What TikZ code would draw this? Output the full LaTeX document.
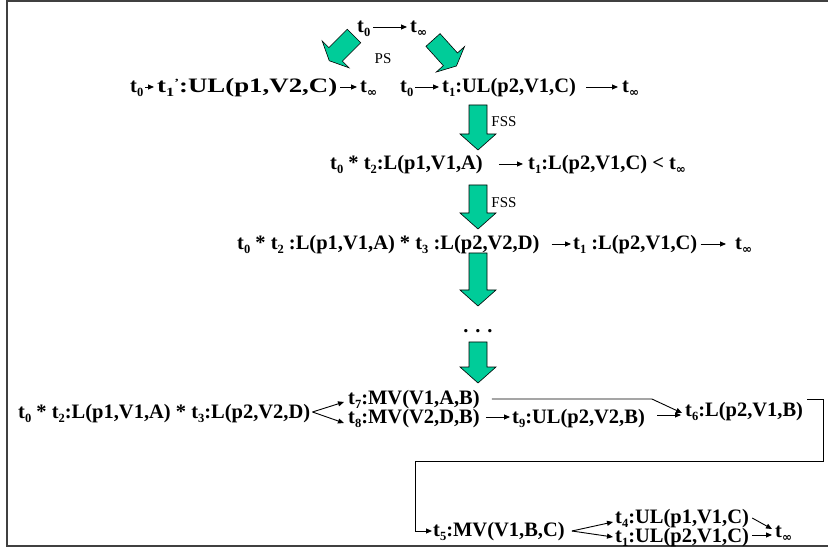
\documentclass[tikz,border=0pt]{standalone}
\usepackage{fontspec}
\setmainfont{Liberation Serif}
\newfontfamily\symfont{DejaVu Sans}
\usetikzlibrary{arrows.meta,calc}
\definecolor{blockgreen}{RGB}{0,204,153}
\definecolor{framegray}{RGB}{64,64,64}
% subscript and the "t infinity" state
\newcommand\ssub[1]{\raisebox{-4pt}{\fontsize{12.5}{12.5}\selectfont #1}}
\newcommand\tinf{t\raisebox{-4pt}{\symfont\bfseries\fontsize{12}{12}\selectfont ∞}}
\newcommand\tprime{\raisebox{6pt}{\fontsize{11}{11}\selectfont '}}
% vertical block arrow: x, top, head base, tip
\newcommand\greendown[4]{%
  \path[bigarrow] (#1-9,#2) -- (#1+9,#2) -- (#1+9,#3) -- (#1+18,#3) -- (#1,#4)
    -- (#1-18,#3) -- (#1-9,#3) -- cycle;}
\begin{document}
\begin{tikzpicture}[x=1pt,y=-1pt,
  txt/.style={inner sep=0pt, anchor=base west, font=\fontsize{20.5}{22}\selectfont\bfseries},
  lbl/.style={inner sep=0pt, font=\fontsize{15}{15}\selectfont},
  conn/.style={-{Triangle[length=6pt,width=5pt]}, line width=0.9pt},
  bigarrow/.style={fill=blockgreen, draw=black, line width=0.6pt, line join=miter},
  frame/.style={draw=framegray, line width=1.2pt}]
\useasboundingbox (0,0) rectangle (828,548);
\clip (0,0) rectangle (828,548);
\draw[frame] (840,1) -- (7,1) -- (7,546) -- (840,546);

% top: t0 -> t_inf and the two PS splits
\node[txt] (a0) at (357,33) {t\ssub{0}};
\node[txt] (ainf) at (410,33) {\tinf};
\draw[conn] ($(a0.base east)+(3,-6)$) -- ($(ainf.base west)+(-3,-6)$);
\begin{scope}[shift={(354,36)}, rotate=225]
  \path[bigarrow] (0,-9.5) -- (26,-9.5) -- (26,-19) -- (35,0) -- (26,19) -- (26,9.5) -- (0,9.5) -- cycle;
\end{scope}
\begin{scope}[shift={(433,40)}, rotate=-48]
  \path[bigarrow] (0,-9.5) -- (26,-9.5) -- (26,-19) -- (35,0) -- (26,19) -- (26,9.5) -- (0,9.5) -- cycle;
\end{scope}
\node[lbl] (ps) at (383,59) {PS};

% first level
\node[txt] (b0) at (130,93) {t\ssub{0}};
\node[txt] (b1) at (157,93) {\scalebox{1.31}[1]{t\ssub{1}\tprime:UL(p1,V2,C)}};
\node[txt] (binf) at (360,93) {\tinf};
\draw[conn] ($(b0.base east)+(2,-6)$) -- ($(b1.base west)+(-3,-6)$);
\draw[conn] ($(b1.base east)+(3,-6)$) -- ($(binf.base west)+(-3,-6)$);

\node[txt] (c0) at (400,93) {t\ssub{0}};
\node[txt] (c1) at (442,93) {t\ssub{1}:UL(p2,V1,C)};
\node[txt] (cinf) at (622,93) {\tinf};
\draw[conn] ($(c0.base east)+(2,-6)$) -- ($(c1.base west)+(-3,-6)$);
\draw[conn] ($(c1.base east)+(10,-6)$) -- ($(cinf.base west)+(-4,-6)$);

\greendown{478}{105}{134}{150}
\node[lbl] (fss1) at (504,122) {FSS};

% second level
\node[txt] (d0) at (330,170) {t\ssub{0} * t\ssub{2}:L(p1,V1,A)};
\node[txt] (d1) at (528,170) {t\ssub{1}:L(p2,V1,C) < \tinf};
\draw[conn] ($(d0.base east)+(16,-6)$) -- ($(d1.base west)+(-5,-6)$);

\greendown{478}{185}{213}{229}
\node[lbl] (fss2) at (504,203) {FSS};

% third level
\node[txt] (e0) at (237,250) {t\ssub{0} * t\ssub{2} :L(p1,V1,A) * t\ssub{3} :L(p2,V2,D)};
\node[txt] (e1) at (573,250) {t\ssub{1} :L(p2,V1,C)};
\node[txt] (einf) at (735,250) {\tinf};
\draw[conn] ($(e0.base east)+(12,-6)$) -- ($(e1.base west)+(-2,-6)$);
\draw[conn] ($(e1.base east)+(3,-6)$) -- ($(einf.base west)+(-9,-6)$);

\greendown{478}{253}{290}{306}
\node[txt, anchor=base] (dots) at (478,333) {. . .};
\greendown{478}{342}{367}{383}

% final expansion
\node[txt] (f0) at (18,418) {t\ssub{0} * t\ssub{2}:L(p1,V1,A) * t\ssub{3}:L(p2,V2,D)};
\node[txt] (f7) at (348,404) {t\ssub{7}:MV(V1,A,B)};
\node[txt] (f8) at (348,423) {t\ssub{8}:MV(V2,D,B)};
\node[txt] (f9) at (512,423) {t\ssub{9}:UL(p2,V2,B)};
\node[txt] (f6) at (685,416) {t\ssub{6}:L(p2,V1,B)};
\coordinate (fk) at ($(f0.base east)+(2,-6)$);
\draw[conn] (fk) -- ($(f7.base west)+(-4,-2)$);
\draw[conn] (fk) -- ($(f8.base west)+(-4,0)$);
\draw[conn] ($(f7.base east)+(12,-5)$) -- ++(160,0) -- ($(f6.base west)+(-3,-3)$);
\draw[conn] ($(f8.base east)+(6,-6)$) -- ($(f9.base west)+(-2,-6)$);
\draw[conn] ($(f9.base east)+(12,-8)$) -- ($(f6.base west)+(-4,-1)$);

\node[txt] (g5) at (433,536) {t\ssub{5}:MV(V1,B,C)};
\node[txt] (g4) at (615,523) {t\ssub{4}:UL(p1,V1,C)};
\node[txt] (g1) at (615,542) {t\ssub{1}:UL(p2,V1,C)};
\node[txt] (ginf) at (775,537) {\tinf};
\coordinate (turnR) at (823,461);
\coordinate (turnL) at (415,461);
\draw[conn] ($(f6.base east)+(4,-17)$) -| (turnR) -- (turnL) |- ($(g5.base west)+(-1,-5)$);
\coordinate (gk) at ($(g5.base east)+(7,-5)$);
\draw[conn] (gk) -- ($(g4.base west)+(-2,-1)$);
\draw[conn] (gk) -- ($(g1.base west)+(-2,-5)$);
\draw[conn] ($(g4.base east)+(3,-5)$) -- ($(ginf.base west)+(-3,-8)$);
\draw[conn] ($(g1.base east)+(3,-7)$) -- ($(ginf.base west)+(-3,-2)$);
\end{tikzpicture}
\end{document}
